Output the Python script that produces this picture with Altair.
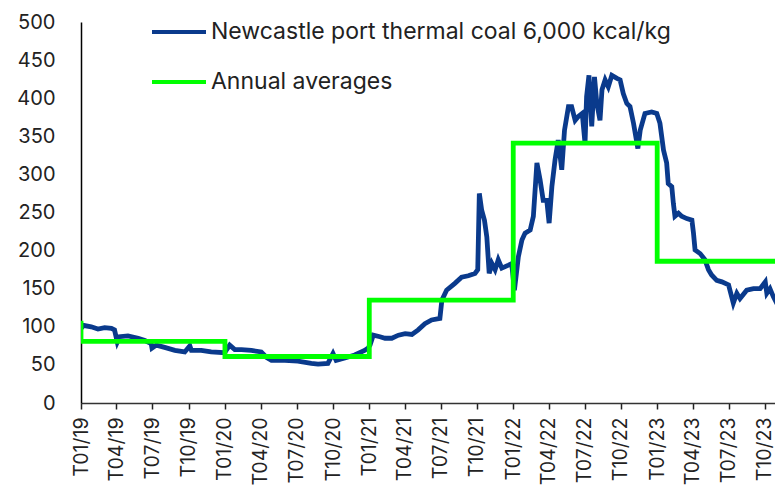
import altair as alt
import pandas as pd

series_names = ["Newcastle port thermal coal 6,000 kcal/kg", "Annual averages"]
series_colors = ["#0a3a8c", "#00ff00"]

price_dates = [
    "2019-01-02", "2019-01-06", "2019-01-27", "2019-02-13", "2019-03-02", "2019-03-19", "2019-03-27",
    "2019-04-03", "2019-04-09", "2019-04-30", "2019-05-26", "2019-06-12", "2019-06-28", "2019-06-30",
    "2019-07-11", "2019-08-01", "2019-08-27", "2019-09-21", "2019-10-04", "2019-10-08", "2019-11-02",
    "2019-11-27", "2019-12-31",
    "2020-01-13", "2020-01-26", "2020-02-12", "2020-03-08", "2020-04-02", "2020-04-15", "2020-04-28",
    "2020-06-01", "2020-07-04", "2020-08-07", "2020-08-24", "2020-09-18", "2020-10-01", "2020-10-09",
    "2020-10-31", "2020-11-25", "2020-12-20", "2020-12-29",
    "2021-01-03", "2021-01-11", "2021-01-28", "2021-02-10", "2021-02-27", "2021-03-16", "2021-04-02",
    "2021-04-19", "2021-05-05", "2021-05-22", "2021-06-08", "2021-06-29", "2021-07-04", "2021-07-16",
    "2021-08-06", "2021-08-23", "2021-09-09", "2021-09-26", "2021-10-03", "2021-10-07", "2021-10-13",
    "2021-10-20", "2021-10-26", "2021-11-01", "2021-11-08", "2021-11-16", "2021-11-24", "2021-12-03",
    "2021-12-20", "2021-12-28",
    "2022-01-04", "2022-01-14", "2022-01-23", "2022-01-31", "2022-02-13", "2022-02-21", "2022-03-02",
    "2022-03-10", "2022-03-18", "2022-03-27", "2022-04-02", "2022-04-09", "2022-04-17", "2022-04-25",
    "2022-05-04", "2022-05-11", "2022-05-21", "2022-05-29", "2022-06-07", "2022-06-15", "2022-06-25",
    "2022-07-02", "2022-07-06", "2022-07-12", "2022-07-19", "2022-07-26", "2022-08-01", "2022-08-09",
    "2022-08-14", "2022-08-22", "2022-08-30", "2022-09-08", "2022-09-21", "2022-09-29", "2022-10-07",
    "2022-10-16", "2022-10-24", "2022-11-02", "2022-11-13", "2022-11-19", "2022-12-01", "2022-12-18",
    "2022-12-31",
    "2023-01-08", "2023-01-17", "2023-01-25", "2023-01-29", "2023-02-07", "2023-02-11", "2023-02-15",
    "2023-02-24", "2023-03-04", "2023-03-17", "2023-03-30", "2023-04-03", "2023-04-07", "2023-04-20",
    "2023-05-02", "2023-05-11", "2023-05-19", "2023-06-01", "2023-06-14", "2023-07-01", "2023-07-13",
    "2023-07-22", "2023-07-30", "2023-08-16", "2023-09-02", "2023-09-19", "2023-10-02", "2023-10-06",
    "2023-10-14", "2023-10-23", "2023-10-31", "2023-11-09", "2023-11-16",
]
price_values = [
    98, 102, 100, 97, 99, 98, 96,
    80, 87, 88, 85, 82, 78, 72,
    76, 73, 69, 67, 75, 69, 69,
    67, 66,
    76, 70, 70, 69, 67, 60, 56,
    56, 55, 52, 51, 52, 65, 56,
    59, 63, 69, 72,
    76, 89, 87, 85, 85, 89, 91,
    90, 96, 104, 109, 111, 135, 148,
    157, 165, 167, 170, 175, 275, 253,
    240, 218, 170, 183, 175, 188, 177,
    181, 183,
    148, 192, 214, 223, 227, 245, 315,
    293, 266, 266, 236, 284, 319, 345,
    306, 358, 389, 389, 371, 376, 380,
    341, 402, 430, 363, 428, 393, 371,
    411, 424, 415, 430, 426, 424, 406,
    393, 389, 367, 334, 358, 380, 382,
    380,
    367, 332, 315, 288, 284, 262, 245,
    249, 245, 242, 240, 223, 201, 196,
    188, 175, 168, 161, 159, 155, 131,
    144, 137, 148, 150, 150, 159, 144,
    150, 139, 131, 129, 131,
]

avg_years = [2019, 2020, 2021, 2022, 2023]
avg_values = [81, 61, 135, 341, 186]
avg_start_value = 108
end_date = "2023-11-16"

tick_dates = [f"{y}-{m:02d}-01" for y in range(2019, 2024) for m in (1, 4, 7, 10)]

# price series
rows = []
for i, (d, v) in enumerate(zip(price_dates, price_values)):
    rows.append({"date": d, "value": v, "series": series_names[0], "ord": i})
# annual averages as step vertices
k = 0
rows.append({"date": f"{avg_years[0]}-01-01", "value": avg_start_value, "series": series_names[1], "ord": k}); k += 1
for j, (y, v) in enumerate(zip(avg_years, avg_values)):
    rows.append({"date": f"{y}-01-01", "value": v, "series": series_names[1], "ord": k}); k += 1
    end = f"{avg_years[j + 1]}-01-01" if j + 1 < len(avg_years) else end_date
    rows.append({"date": end, "value": v, "series": series_names[1], "ord": k}); k += 1
df = pd.DataFrame(rows)

FONT = "Inter"

chart = alt.Chart(df).mark_line(strokeWidth=4.8, clip=True).encode(
    x=alt.X(
        "date:T",
        scale=alt.Scale(domain=["2019-01-01T00:00:00", end_date + "T00:00:00"]),
        axis=alt.Axis(
            values=tick_dates,
            format="T%m/%y",
            labelAngle=-90,
            labelFontSize=19.5,
            labelPadding=8,
            tickSize=6,
            tickColor="#222222",
            tickWidth=1.5,
            domainColor="#333333",
            domainWidth=1.5,
            grid=False,
            title=None,
            labelColor="#222222",
            labelFont=FONT,
        ),
    ),
    y=alt.Y(
        "value:Q",
        scale=alt.Scale(domain=[0, 500]),
        axis=alt.Axis(
            values=list(range(0, 501, 50)),
            ticks=False,
            labelPadding=26,
            labelFontSize=20,
            domainColor="#000000",
            domainWidth=1.5,
            grid=False,
            title=None,
            labelColor="#222222",
            labelFont=FONT,
        ),
    ),
    color=alt.Color(
        "series:N",
        scale=alt.Scale(domain=series_names, range=series_colors),
        legend=alt.Legend(
            title=None,
            orient="none",
            legendX=69,
            legendY=-19,
            symbolType="stroke",
            symbolSize=2916,
            symbolStrokeWidth=4,
            labelFontSize=23,
            labelFont=FONT,
            labelColor="#222222",
            labelOffset=3,
            rowPadding=9,
            labelLimit=700,
            padding=0,
        ),
    ),
    order=alt.Order("ord:Q"),
).properties(
    width=702,
    height=381,
    autosize=alt.AutoSizeParams(type="none"),
    padding={"left": 73, "top": 14, "right": -8, "bottom": 85},
).configure_view(stroke=None)

chart.save("out.html", embed_options={"renderer": "svg", "actions": False})
